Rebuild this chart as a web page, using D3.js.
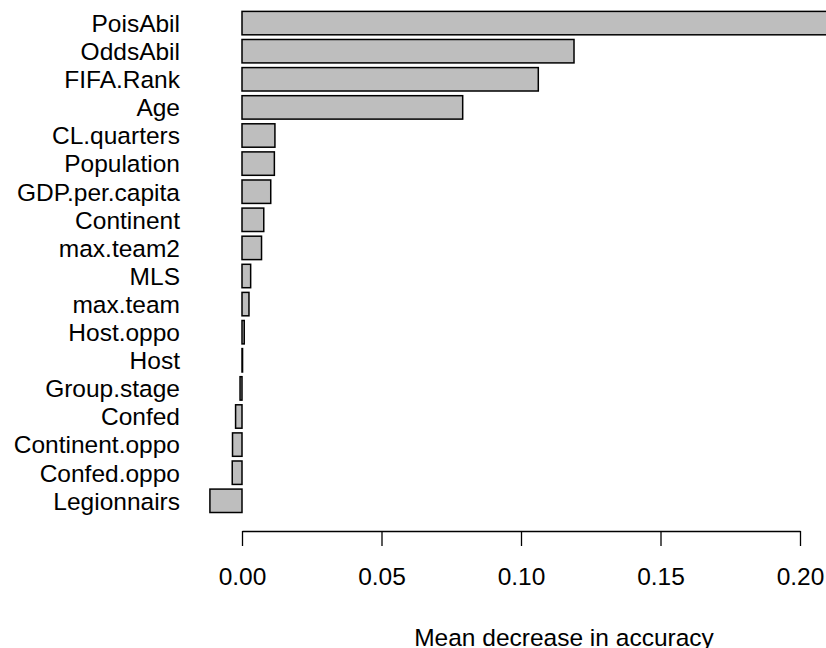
<!DOCTYPE html>
<html>
<head>
<meta charset="utf-8">
<script src="https://cdn.jsdelivr.net/npm/d3@7"></script>
<style>
  body { margin: 0; background: #fff; }
  text { font-family: "Liberation Sans", Arial, Helvetica, sans-serif; }
</style>
</head>
<body>
<div id="viewport"></div>
<script>
// variable importance, top to bottom
var labels = ["PoisAbil", "OddsAbil", "FIFA.Rank", "Age", "CL.quarters", "Population",
    "GDP.per.capita", "Continent", "max.team2", "MLS", "max.team", "Host.oppo", "Host",
    "Group.stage", "Confed", "Continent.oppo", "Confed.oppo", "Legionnairs"];
var values = [0.236, 0.119, 0.1062, 0.0791, 0.0118, 0.0116,
    0.0103, 0.0078, 0.0070, 0.0031, 0.0025, 0.0008, 0.0002,
    -0.0007, -0.0023, -0.0034, -0.0035, -0.0115];
var tickValues = [0, 0.05, 0.10, 0.15, 0.20];
var xTitle = "Mean decrease in accuracy";

var width = 826, height = 648, fs = 24.5;

var svg = d3.select("#viewport").append("svg")
    .attr("width", width)
    .attr("height", height);

var x = d3.scaleLinear().domain([0, 0.2]).range([242, 800]);
var y = d3.scaleBand().domain(labels).range([9.05, 514.85])
    .paddingInner(1 / 6).paddingOuter(1 / 12);

var data = labels.map(function(l, i) { return {label: l, value: values[i]}; });

// bars
svg.selectAll("rect.bar")
    .data(data)
    .enter().append("rect")
    .attr("class", "bar")
    .attr("x", function(d) { return x(Math.min(0, d.value)); })
    .attr("y", function(d) { return y(d.label); })
    .attr("width", function(d) { return Math.abs(x(d.value) - x(0)); })
    .attr("height", y.bandwidth())
    .attr("fill", "#bebebe")
    .attr("stroke", "#000")
    .attr("stroke-width", 1.5);

// category labels
svg.selectAll("text.lab")
    .data(data)
    .enter().append("text")
    .attr("class", "lab")
    .attr("x", 180)
    .attr("y", function(d) { return y(d.label) + y.bandwidth() / 2; })
    .attr("dy", "0.36em")
    .attr("text-anchor", "end")
    .style("font-size", fs + "px")
    .text(function(d) { return d.label; });

// x axis
var axis = svg.append("g")
    .attr("transform", "translate(0,531)")
    .call(d3.axisBottom(x)
        .tickValues(tickValues)
        .tickFormat(d3.format(".2f"))
        .tickSize(15)
        .tickSizeOuter(0)
        .tickPadding(21.5));
axis.selectAll("path, line").attr("stroke", "#000").attr("stroke-width", 1.3);
axis.selectAll("text")
    .attr("fill", "#000")
    .style("font-size", fs + "px")
    .style("font-family", '"Liberation Sans", Arial, Helvetica, sans-serif');

svg.append("text")
    .attr("x", 564)
    .attr("y", 646)
    .attr("text-anchor", "middle")
    .style("font-size", fs + "px")
    .text(xTitle);
</script>
</body>
</html>
